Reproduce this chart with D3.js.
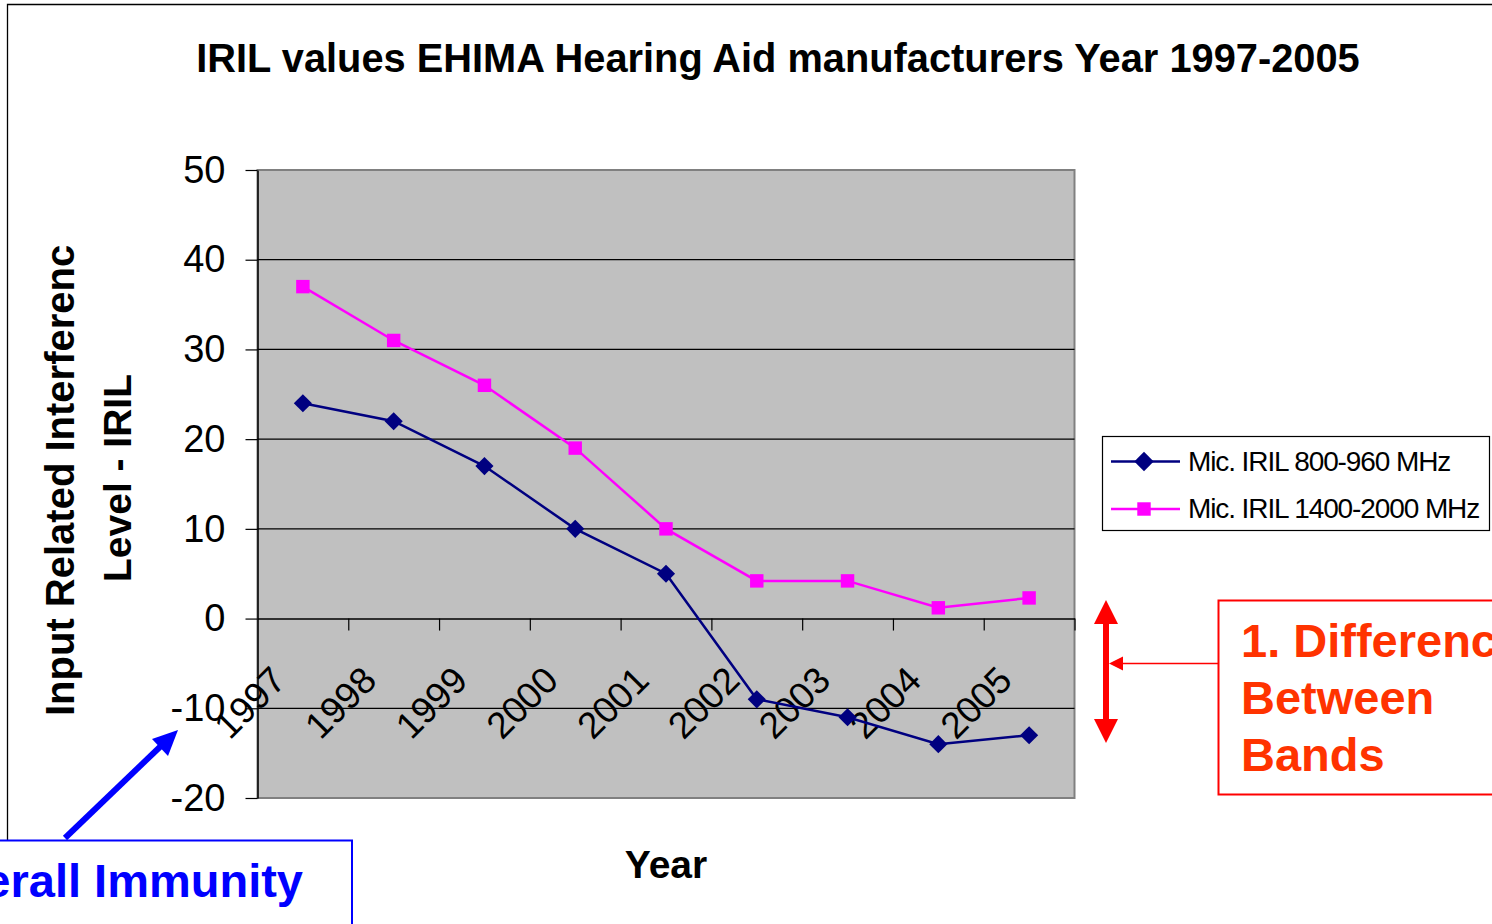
<!DOCTYPE html>
<html>
<head>
<meta charset="utf-8">
<script src="https://cdn.jsdelivr.net/npm/d3@7"></script>
<style>
  body { margin: 0; background: #fff; }
  svg { display: block; font-family: "Liberation Sans", Arial, sans-serif; }
</style>
</head>
<body>
<div id="chart"></div>
<script>
// data
const years = ["1997", "1998", "1999", "2000", "2001", "2002", "2003", "2004", "2005"];
const iril800 = [24, 22, 17, 10, 5, -9, -11, -14, -13];
const iril1400 = [37, 31, 26, 19, 10, 4.2, 4.2, 1.2, 2.3];
const yTicks = [-20, -10, 0, 10, 20, 30, 40, 50];
const seriesNames = ["Mic. IRIL 800-960 MHz", "Mic. IRIL 1400-2000 MHz"];
const seriesColors = ["#000080", "#FF00FF"];

const W = 1492, H = 924;
const svg = d3.select("#chart").append("svg").attr("width", W).attr("height", H);

// outer chart border (only top and left are in view)
svg.append("path").attr("d", "M7.5,924 V4.5 H1500")
   .attr("fill", "none").attr("stroke", "#000").attr("stroke-width", 1.3);

// title
svg.append("text").attr("x", 778).attr("y", 72).attr("text-anchor", "middle")
   .attr("font-size", 39.8).attr("font-weight", "bold")
   .text("IRIL values EHIMA Hearing Aid manufacturers Year 1997-2005");

const x = d3.scaleBand().domain(years).range([257.5, 1074.5]);
const xEdge = d3.scaleLinear().domain([0, years.length]).range([257.5, 1074.5]);
const y = d3.scaleLinear().domain([-20, 50]).range([798, 170]);

// plot area
svg.append("rect").attr("x", 257.5).attr("y", y(50)).attr("width", 817).attr("height", y(-20) - y(50))
   .attr("fill", "#C0C0C0").attr("stroke", "#808080").attr("stroke-width", 2);

// gridlines
svg.append("g").selectAll("line").data(yTicks.filter(d => d > -20 && d < 50 && d !== 0)).enter()
   .append("line")
   .attr("x1", 257.5).attr("x2", 1074.5)
   .attr("y1", d => y(d)).attr("y2", d => y(d))
   .attr("stroke", "#000").attr("stroke-width", 1.2);

// y axis
const yAxis = svg.append("g").attr("transform", "translate(257.5,0)")
   .call(d3.axisLeft(y).tickValues(yTicks).tickFormat(d => String(d))
         .tickSize(12).tickPadding(20).tickSizeOuter(0));
yAxis.select(".domain").attr("stroke", "#000").attr("stroke-width", 1.5);
yAxis.selectAll(".tick line").attr("stroke", "#000").attr("stroke-width", 1.2);
yAxis.selectAll("text").attr("font-size", 38).attr("fill", "#000")
   .attr("font-family", "Liberation Sans, Arial, sans-serif");

// x axis at zero, ticks on category edges
const xAxis = svg.append("g").attr("transform", "translate(0," + y(0) + ")")
   .call(d3.axisBottom(xEdge).tickValues(d3.range(1, years.length + 1)).tickSize(12)
         .tickSizeOuter(0).tickFormat(""));
xAxis.select(".domain").attr("stroke", "#000").attr("stroke-width", 1.5);
xAxis.selectAll(".tick line").attr("stroke", "#000").attr("stroke-width", 1.2);

// rotated year labels
svg.append("g").selectAll("text").data(years).enter().append("text")
   .attr("transform", d => "translate(" + (x(d) + x.bandwidth() / 2 - 15) + "," + (y(0) + 64) + ") rotate(-45)")
   .attr("text-anchor", "end").attr("font-size", 37)
   .text(d => d);

// series
const series = [iril800, iril1400];
const line = d3.line().x((d, i) => x(years[i]) + x.bandwidth() / 2).y(d => y(d));
series.forEach(function(vals, s) {
  svg.append("path").datum(vals).attr("d", line)
     .attr("fill", "none").attr("stroke", seriesColors[s]).attr("stroke-width", 2.5);
  const sym = s === 0 ? d3.symbolDiamond2 : d3.symbolSquare2;
  const size = s === 0 ? 210 : 230;
  svg.append("g").selectAll("path").data(vals).enter().append("path")
     .attr("transform", (d, i) => "translate(" + (x(years[i]) + x.bandwidth() / 2) + "," + y(d) + ")")
     .attr("d", d3.symbol().type(sym).size(size))
     .attr("fill", seriesColors[s]);
});

// y axis title, clipped at the top like the original
svg.append("clipPath").attr("id", "ytclip").append("rect")
   .attr("x", 0).attr("y", 244).attr("width", 200).attr("height", 700);
const yt = svg.append("g").attr("clip-path", "url(#ytclip)");
yt.append("text").attr("transform", "translate(74,716) rotate(-90)")
   .attr("text-anchor", "start").attr("font-size", 40).attr("font-weight", "bold")
   .text("Input Related Interference");
yt.append("text").attr("transform", "translate(131,478) rotate(-90)")
   .attr("text-anchor", "middle").attr("font-size", 39).attr("font-weight", "bold")
   .text("Level - IRIL");

// x axis title
svg.append("text").attr("x", 666).attr("y", 878).attr("text-anchor", "middle")
   .attr("font-size", 39).attr("font-weight", "bold").text("Year");

// legend
const lg = svg.append("g");
lg.append("rect").attr("x", 1102.5).attr("y", 436.5).attr("width", 387).attr("height", 94)
  .attr("fill", "#fff").attr("stroke", "#000").attr("stroke-width", 1.2);
seriesNames.forEach(function(name, s) {
  const ly = 461.5 + s * 47.5;
  lg.append("line").attr("x1", 1111).attr("x2", 1180).attr("y1", ly).attr("y2", ly)
    .attr("stroke", seriesColors[s]).attr("stroke-width", 2.5);
  lg.append("path").attr("transform", "translate(1144," + ly + ")")
    .attr("d", d3.symbol().type(s === 0 ? d3.symbolDiamond2 : d3.symbolSquare2).size(s === 0 ? 240 : 230))
    .attr("fill", seriesColors[s]);
  lg.append("text").attr("x", 1188).attr("y", ly + 9).attr("font-size", 28)
    .attr("letter-spacing", -1.1).text(name);
});

// red annotation: double arrow and note box
const red = "#FF0000", redText = "#FF3300";
svg.append("line").attr("x1", 1106).attr("x2", 1106).attr("y1", 620).attr("y2", 724)
   .attr("stroke", red).attr("stroke-width", 6);
svg.append("path").attr("d", "M1106,600 L1118,624 L1094,624 Z").attr("fill", red);
svg.append("path").attr("d", "M1106,743 L1118,719 L1094,719 Z").attr("fill", red);
svg.append("line").attr("x1", 1218).attr("x2", 1118).attr("y1", 663.5).attr("y2", 663.5)
   .attr("stroke", red).attr("stroke-width", 1.5);
svg.append("path").attr("d", "M1109,663.5 L1123,656.5 L1123,670.5 Z").attr("fill", red);
svg.append("rect").attr("x", 1218.5).attr("y", 600.5).attr("width", 300).attr("height", 194)
   .attr("fill", "#fff").attr("stroke", red).attr("stroke-width", 2);
["1. Difference", "Between", "Bands"].forEach(function(t, i) {
  svg.append("text").attr("x", 1241).attr("y", 657 + i * 57).attr("font-size", 47)
     .attr("font-weight", "bold").attr("fill", redText).text(t);
});

// blue annotation: arrow and note box
const blue = "#0000FF";
svg.append("line").attr("x1", 65).attr("y1", 838).attr("x2", 163).attr("y2", 744)
   .attr("stroke", blue).attr("stroke-width", 6);
svg.append("path").attr("d", "M178,730 L168,756 L152,739 Z").attr("fill", blue);
svg.append("rect").attr("x", -20).attr("y", 840.5).attr("width", 372).attr("height", 120)
   .attr("fill", "#fff").attr("stroke", blue).attr("stroke-width", 2);
svg.append("text").attr("x", 303).attr("y", 897).attr("text-anchor", "end").attr("font-size", 47)
   .attr("font-weight", "bold").attr("fill", blue).text("Overall Immunity");
</script>
</body>
</html>
